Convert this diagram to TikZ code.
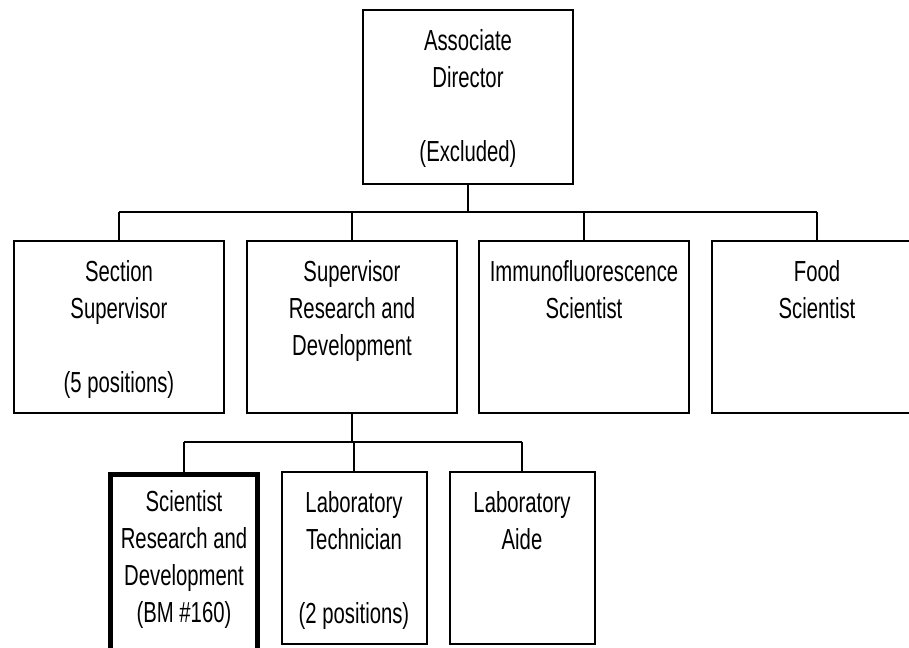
\documentclass[tikz,border=0pt]{standalone}
\usepackage{fontspec}
\setmainfont[FakeStretch=0.7]{Liberation Sans}
\usetikzlibrary{positioning}

\begin{document}
\begin{tikzpicture}[x=1pt, y=-1pt,
		box/.style={draw, line width=2pt, minimum width=210pt, minimum height=172pt, inner sep=0pt},
		smallbox/.style={box, minimum width=145pt},
		lbl/.style={anchor=north, align=center, inner sep=0pt, font=\fontsize{29}{37}\selectfont},
		conn/.style={line width=2pt}]
		\useasboundingbox (0,0) rectangle (909,647);
		% director
		\node[box, minimum height=174pt] (dir) at (468,97) {};
		\node[lbl, below=20pt of dir.north] (dirtxt) {Associate\\Director\\[37pt](Excluded)};
		% second row
		\node[box] (sec) at (119,327) {};
		\node[box] (sup) at (352,327) {};
		\node[box] (imm) at (584,327) {};
		\node[box] (food) at (817,327) {};
		\node[lbl, below=20pt of sec.north] (sectxt) {Section\\Supervisor\\[37pt](5 positions)};
		\node[lbl, below=20pt of sup.north] (suptxt) {Supervisor\\Research and\\Development};
		\node[lbl, below=20pt of imm.north] (immtxt) {Immunofluorescence\\Scientist};
		\node[lbl, below=20pt of food.north] (foodtxt) {Food\\Scientist};
		% third row (the first box runs off the page)
		\node[smallbox, line width=5pt, minimum width=147pt, minimum height=176pt] (sci) at (184,562.5) {};
		\node[smallbox] (tech) at (354,558) {};
		\node[smallbox] (aide) at (522,558) {};
		\node[lbl, below=18pt of sci.north] (scitxt) {Scientist\\Research and\\Development\\(BM \#160)};
		\node[lbl, below=20pt of tech.north] (techtxt) {Laboratory\\Technician\\[37pt](2 positions)};
		\node[lbl, below=20pt of aide.north] (aidetxt) {Laboratory\\Aide};
		% connectors
		\coordinate (bus1) at (0,212);
		\coordinate (bus2) at (0,442);
		\draw[conn] (dir.south) -- (dir.south |- bus1);
		\draw[conn] (sec.north |- bus1) -- (food.north |- bus1);
		\foreach \n in {sec,sup,imm,food}
			\draw[conn] (\n.north) -- (\n.north |- bus1);
		\draw[conn] (sup.south) -- (sup.south |- bus2);
		\draw[conn] (sci.north |- bus2) -- (aide.north |- bus2);
		\foreach \n in {sci,tech,aide}
			\draw[conn] (\n.north) -- (\n.north |- bus2);
	\end{tikzpicture}
\end{document}
